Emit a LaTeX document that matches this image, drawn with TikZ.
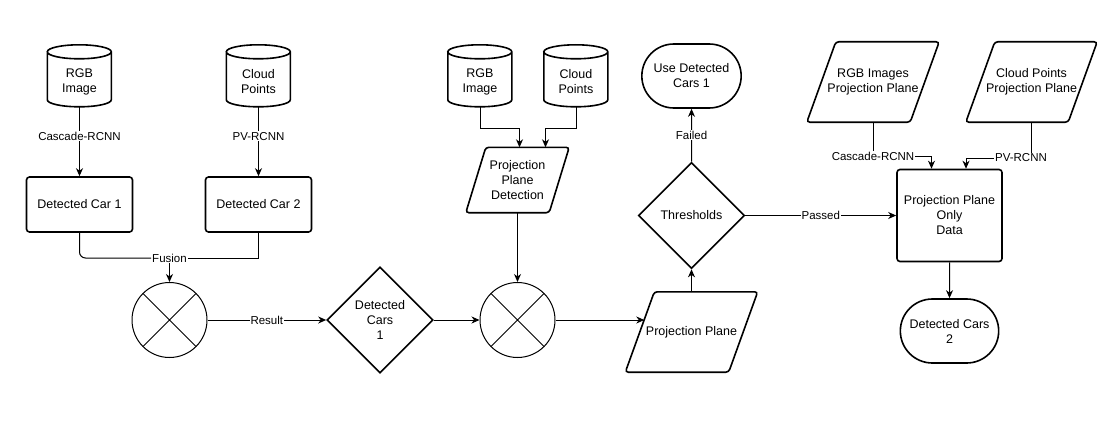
\documentclass[tikz,border=0pt]{standalone}
\usepackage{fontspec}
\setmainfont{Liberation Sans}
\usetikzlibrary{shapes.geometric,shapes.misc,arrows.meta}
\newcommand{\linecolor}{black}
\newcommand{\fillcolor}{white}
\newcommand{\dataslant}{29pt}
\newcommand{\boxfont}{\fontsize{12.5pt}{15pt}\selectfont}
\newcommand{\labelfont}{\fontsize{11.5pt}{13pt}\selectfont}
\newcommand{\databaseNS}[3]{
    % Database (Cylinder) in North-South Orientation
    % \databaseNS{name}{position}{text}
    % node endings: use name.north, name.south
    % example:
    %   \databaseNS{db}{(0,0)}{RGB\\Image}
    %   \draw (db.south) -- ++(0,40);
    \path #2 node (#1) [inner sep=0pt,minimum width=64pt,minimum height=62pt] {};
    \draw[shapeline] (#1.north west) ++(0,7) -- ++(0,48)
        arc[start angle=180,end angle=360,x radius=32pt,y radius=7pt]
        -- ++(0,-48)
        arc[start angle=0,end angle=180,x radius=32pt,y radius=7pt]
        arc[start angle=180,end angle=360,x radius=32pt,y radius=7pt];
    \path #2 ++(0,6) node [align=center,font=\boxfont] {#3};
}
\newcommand{\dataioWE}[4]{
    % Data (Parallelogram) in West-East Orientation
    % \dataioWE{name}{position}{size options}{text}
    % slant of the sides: \dataslant
    % example:
    %   \renewcommand{\dataslant}{20pt}
    %   \dataioWE{d}{(0,0)}{minimum width=100pt,minimum height=60pt}{Data}
    %   \draw (d.south) -- ++(0,40);
    \path #2 node (#1) [#3,inner sep=0pt,align=center,font=\boxfont] {#4};
    \draw[shapeline,rounded corners=3pt] (#1.south west)
        -- ([xshift=\dataslant]#1.north west) -- (#1.north east)
        -- ([xshift=-\dataslant]#1.south east) -- cycle;
}
\newcommand{\mixer}[2]{
    % Summing Junction (Circle With Cross)
    % \mixer{name}{position}
    % example:
    %   \mixer{m}{(0,0)}
    %   \draw[flow] (m) -- ++(100,0);
    \path #2 node (#1) [draw=\linecolor,circle,line width=1pt,minimum size=75pt,
        inner sep=0pt] {};
    \draw[line width=1pt] (#1.north west) -- (#1.south east)
        (#1.north east) -- (#1.south west);
}
\tikzset{
    shapeline/.style={draw=\linecolor,line width=1.6pt},
    process/.style={shapeline,fill=\fillcolor,rounded corners=3pt,
        minimum width=106pt,minimum height=55pt,align=center,font=\boxfont},
    decision/.style={shapeline,fill=\fillcolor,diamond,aspect=1,inner sep=0pt,
        minimum width=106pt,minimum height=106pt,align=center,font=\boxfont},
    terminal/.style={shapeline,fill=\fillcolor,rounded rectangle,
        minimum width=106pt,minimum height=64pt,align=center,font=\boxfont},
    wire/.style={draw=\linecolor,line width=1pt},
    flow/.style={wire,-{Stealth[length=8pt,width=7pt,inset=2.5pt]}},
    edgelabel/.style={fill=white,inner sep=1pt,font=\labelfont}
}

\begin{document}
\begin{tikzpicture}[x=1pt,y=-1pt]
  \useasboundingbox (0,0) rectangle (1118,420);
  % first detection
  \databaseNS{rgbA}{(79.5,76)}{RGB\\Image}
  \databaseNS{cloudA}{(258.5,76)}{Cloud\\Points}
  \node (carA) at (79.5,204.5) [process] {Detected Car 1};
  \node (carB) at (258.5,204.5) [process] {Detected Car 2};
  \draw[flow] (rgbA.south) -- node [edgelabel,pos=0.42] {Cascade-RCNN} (carA);
  \draw[flow] (cloudA.south) -- node [edgelabel,pos=0.42] {PV-RCNN} (carB);
  \node (fusion) at (169.5,258) [edgelabel] {Fusion};
  \mixer{mixA}{(169.5,320)}
  \draw[wire,rounded corners=6pt] (carA) |- (fusion);
  \draw[wire] (carB) |- (fusion);
  \draw[flow] (fusion) -- (mixA);
  \node (carsA) at (380,320) [decision] {Detected\\Cars\\1};
  \draw[flow] (mixA) -- node [edgelabel] {Result} (carsA);

  % projection plane
  \databaseNS{rgbB}{(480,76)}{RGB\\Image}
  \databaseNS{cloudB}{(576,76)}{Cloud\\Points}
  \renewcommand{\dataslant}{20pt}
  \dataioWE{detect}{(517.5,180)}{minimum width=103pt,minimum height=65pt}
      {Projection\\Plane\\Detection}
  \draw[flow] (rgbB.south) -- ++(0,21) -| ([xshift=2pt]detect.north);
  \draw[flow] (cloudB.south) -- ++(0,21) -| ([xshift=28pt]detect.north);
  \mixer{mixB}{(517.5,320)}
  \draw[flow] (carsA) -- (mixB);
  \draw[flow] (detect) -- (mixB);
  \renewcommand{\dataslant}{29pt}
  \dataioWE{plane}{(691.5,332)}{minimum width=132pt,minimum height=80pt}
      {Projection Plane}
  \draw[flow] (mixB) -- ([xshift=19pt]mixB -| plane.west);
  \node (thresh) at (691.5,215.5) [decision] {Thresholds};
  \node (useA) at (691.5,76) [terminal] {Use Detected\\Cars 1};
  \draw[flow] (plane) -- (thresh);
  \draw[flow] (thresh) -- node [edgelabel] {Failed} (useA);

  % second detection
  \dataioWE{rgbP}{(873,82)}{minimum width=132pt,minimum height=80pt}
      {RGB Images\\Projection Plane}
  \dataioWE{cloudP}{(1031.5,82)}{minimum width=131pt,minimum height=80pt}
      {Cloud Points\\Projection Plane}
  \node (only) at (949.5,215.5) [process,minimum width=105pt,minimum height=92pt]
      {Projection Plane\\Only\\Data};
  \node (cascB) at (873,156) [edgelabel] {Cascade-RCNN};
  \node (pvB) at (1021,158) [edgelabel] {PV-RCNN};
  \draw[wire] (rgbP.south) -- (cascB);
  \draw[flow] (cascB.east) -| ([xshift=-18pt]only.north);
  \draw[wire] (cloudP.south) -- (cloudP.south |- pvB.north);
  \draw[flow] (pvB.west) -| ([xshift=16.5pt]only.north);
  \draw[flow] (thresh) -- node [edgelabel] {Passed} (only);
  \node (carsB) at (949.5,331) [terminal,minimum width=105pt] {Detected Cars\\2};
  \draw[flow] (only) -- (carsB);
\end{tikzpicture}
\end{document}
